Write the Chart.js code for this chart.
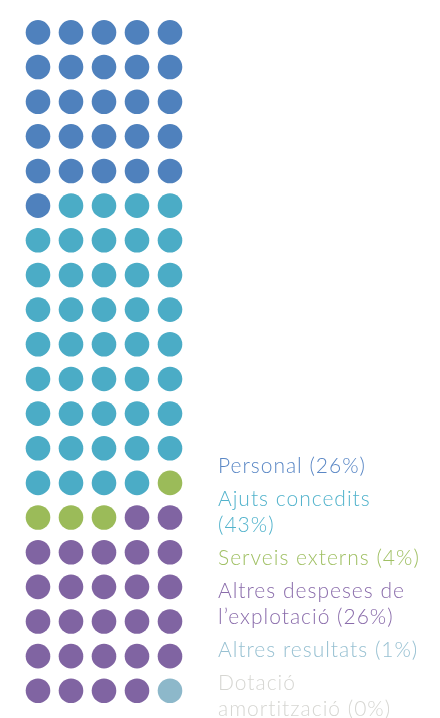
<!DOCTYPE html>
<html>
<head>
<meta charset="utf-8">
<script src="https://cdn.jsdelivr.net/npm/chart.js@4"></script>
<style>
  html, body { margin: 0; padding: 0; background: #fff; }
  #wrap { position: relative; width: 440px; height: 718px; overflow: hidden; }
  #legend {
    position: absolute; left: 218px; top: 452px;
    font-family: Lato, "Open Sans", sans-serif; font-weight: 300;
    font-size: 21px; line-height: 26px; letter-spacing: 1px;
  }
  #legend div { margin-bottom: 7px; white-space: nowrap; }
</style>
</head>
<body>
<div id="wrap">
  <canvas id="chart" width="440" height="718"></canvas>
  <div id="legend"></div>
</div>
<script>
// Dades
const categories = ['Personal', 'Ajuts concedits', 'Serveis externs', 'Altres despeses de l’explotació', 'Altres resultats', 'Dotació amortització'];
const legendLines = [['Personal (26%)'], ['Ajuts concedits', '(43%)'], ['Serveis externs (4%)'], ['Altres despeses de', 'l’explotació (26%)'], ['Altres resultats (1%)'], ['Dotació', 'amortització (0%)']];
const percents = [26, 43, 4, 26, 1, 0];
const dotColors = ['#4f81bd', '#4bacc6', '#9bbb59', '#8064a2', '#8db8ca', '#d9d9d9'];
const textColors = ['#5a87c5', '#52b3cc', '#a0c064', '#8a6cab', '#98c1d2', '#d6d6d2'];
const columns = 5;

// Construir els punts del gràfic de punts
function buildDatasets() {
    let index = 0;
    return categories.map((name, i) => {
        const points = [];
        for (let k = 0; k < percents[i]; k++) {
            points.push({ x: index % columns, y: Math.floor(index / columns) });
            index++;
        }
        return {
            label: name,
            data: points,
            backgroundColor: dotColors[i],
            borderWidth: 0,
            pointRadius: 12.3,
            pointHoverRadius: 12.3
        };
    });
}

// Llegenda en HTML
function buildLegend() {
    const legend = document.getElementById('legend');
    legendLines.forEach((lines, i) => {
        const item = document.createElement('div');
        item.style.color = textColors[i];
        item.innerHTML = lines.join('<br>');
        legend.appendChild(item);
    });
}

new Chart(document.getElementById('chart'), {
    type: 'scatter',
    data: { datasets: buildDatasets() },
    options: {
        responsive: false,
        animation: false,
        layout: { padding: { left: 21.5, right: 253.5, top: 0, bottom: 0 } },
        plugins: { legend: { display: false }, tooltip: { enabled: false } },
        scales: {
            x: { type: 'linear', min: -0.5, max: 4.5, display: false },
            y: { type: 'linear', min: -0.58, max: 19.43, reverse: true, display: false }
        }
    }
});

buildLegend();
</script>
</body>
</html>
